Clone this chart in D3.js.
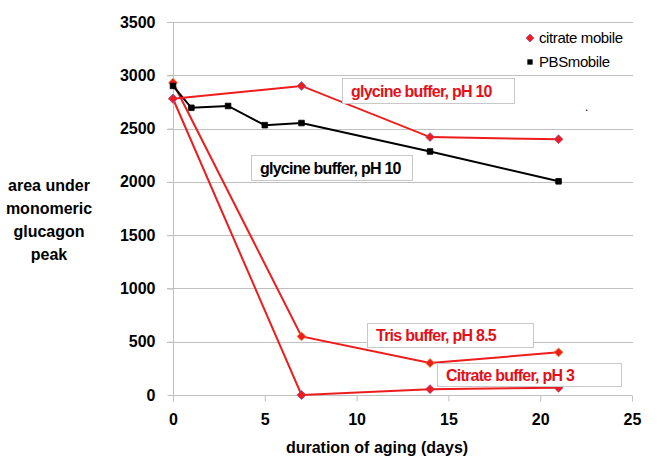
<!DOCTYPE html>
<html><head><meta charset="utf-8">
<script src="https://cdn.jsdelivr.net/npm/d3@7"></script>
<style>body{margin:0;background:#fff}svg{display:block}text{font-family:"Liberation Sans",Arial,sans-serif}</style>
</head><body><div id="chart"></div>
<script>
const xTicks = [0, 5, 10, 15, 20, 25];
const yTicks = [0, 500, 1000, 1500, 2000, 2500, 3000, 3500];

const glycineCitDays = [0, 7, 14, 21];
const glycineCitVals = [2780, 2900, 2420, 2400];
const trisCitDays = [0, 7, 14, 21];
const trisCitVals = [2930, 550, 300, 400];
const citrateCitDays = [0, 7, 14, 21];
const citrateCitVals = [2780, 0, 55, 68];
const glycinePbsDays = [0, 1, 3, 5, 7, 14, 21];
const glycinePbsVals = [2900, 2695, 2712, 2532, 2552, 2285, 2005];

const legendLabels = ["citrate mobile", "PBSmobile"];
const xTitle = "duration of aging (days)";
const yTitleLines = ["area under", "monomeric", "glucagon", "peak"];

const W = 659, H = 460;
const m = {l: 173, r: 27, t: 22, b: 65};
const svg = d3.select("#chart").append("svg").attr("width", W).attr("height", H);

const x = d3.scaleLinear().domain([0, 25]).range([m.l, W - m.r]);
const y = d3.scaleLinear().domain([0, 3500]).range([H - m.b, m.t]);

const gridC = "#c0c0c0";
// gridlines
svg.append("g").selectAll("line").data(yTicks.filter(d => d > 0)).join("line")
  .attr("x1", x(0) - 6).attr("x2", x(25) + 1)
  .attr("y1", d => Math.round(y(d)) + 0.5).attr("y2", d => Math.round(y(d)) + 0.5)
  .attr("stroke", gridC).attr("stroke-width", 1);

// y axis
const yAxis = svg.append("g").attr("transform", `translate(${Math.round(x(0)) + 0.5},0)`)
  .call(d3.axisLeft(y).tickValues(yTicks).tickSize(6).tickPadding(12).tickFormat(d3.format("d")));
yAxis.select(".domain").attr("stroke", gridC).attr("d", `M0,${y(3500)}V${y(0)}`);
yAxis.selectAll(".tick line").attr("stroke", gridC);
yAxis.selectAll(".tick text").attr("font-size", 16).attr("font-weight", "bold").attr("fill", "#000")
  .attr("font-family", "Liberation Sans, Arial, sans-serif");

// x axis
const xAxis = svg.append("g").attr("transform", `translate(0,${Math.round(y(0)) + 0.5})`)
  .call(d3.axisBottom(x).tickValues(xTicks).tickSize(6).tickPadding(12).tickFormat(d3.format("d")));
xAxis.select(".domain").attr("stroke", gridC).attr("d", `M${x(0)},0H${x(25)}`);
xAxis.selectAll(".tick line").attr("stroke", gridC);
xAxis.selectAll(".tick text").attr("font-size", 16).attr("font-weight", "bold").attr("fill", "#000")
  .attr("font-family", "Liberation Sans, Arial, sans-serif");

// titles
svg.append("text").attr("x", 377).attr("y", 453).attr("text-anchor", "middle")
  .attr("font-size", 16).attr("font-weight", "bold").text(xTitle);
svg.append("g").selectAll("text").data(yTitleLines).join("text")
  .attr("x", 49).attr("y", (d, i) => 191 + i * 23).attr("text-anchor", "middle")
  .attr("font-size", 16).attr("font-weight", "bold").text(d => d);

const red = "#ee1c1c";
const line = d3.line().x(d => x(d[0])).y(d => y(d[1]));
function series(days, vals, color, marker, stroke) {
  const pts = days.map((d, i) => [d, vals[i]]);
  svg.append("path").datum(pts).attr("d", line).attr("fill", "none")
    .attr("stroke", color).attr("stroke-width", 2);
  const sym = marker === "diamond" ? d3.symbolDiamond2 : d3.symbolSquare2;
  svg.append("g").selectAll("path").data(pts).join("path")
    .attr("transform", d => `translate(${x(d[0])},${y(d[1])})`)
    .attr("d", d3.symbol().type(sym).size(marker === "diamond" ? 50 : 40))
    .attr("fill", color).attr("stroke", stroke).attr("stroke-width", 0.8);
}
series(citrateCitDays, citrateCitVals, red, "diamond", "#9b3a8c");
series(trisCitDays, trisCitVals, red, "diamond", "#e8841e");
series(glycinePbsDays, glycinePbsVals, "#000", "square", "#000");
series(glycineCitDays, glycineCitVals, red, "diamond", "#8a5aa8");

// annotation boxes
const labels = [
  {t: "glycine buffer, pH 10", bx: 342, by: 78, bw: 172, bh: 25, c: "#e3101a"},
  {t: "glycine buffer, pH 10", bx: 251, by: 155, bw: 161, bh: 25, c: "#000"},
  {t: "Tris buffer, pH 8.5", bx: 367, by: 323, bw: 166, bh: 24, c: "#e3101a"},
  {t: "Citrate  buffer, pH 3", bx: 437, by: 363, bw: 184, bh: 23, c: "#e3101a"}
];
const lg = svg.append("g").selectAll("g").data(labels).join("g");
lg.append("rect").attr("x", d => d.bx + 0.5).attr("y", d => d.by + 0.5)
  .attr("width", d => d.bw).attr("height", d => d.bh)
  .attr("fill", "#fff").attr("stroke", "#c8c8c8");
lg.append("text").attr("x", d => d.bx + 9).attr("y", d => d.by + d.bh / 2 + 6)
  .attr("font-size", 16).attr("font-weight", "bold").attr("fill", d => d.c)
  .attr("letter-spacing", -0.75).text(d => d.t);

// stray dot
svg.append("text").attr("x", 585).attr("y", 111).attr("font-size", 12).attr("fill", "#000").text(".");

// legend
const leg = svg.append("g");
leg.append("path").attr("transform", "translate(530,38)")
  .attr("d", d3.symbol().type(d3.symbolDiamond2).size(40)).attr("fill", red).attr("stroke", "#9b3a8c").attr("stroke-width", 0.6);
leg.append("path").attr("transform", "translate(530,62)")
  .attr("d", d3.symbol().type(d3.symbolSquare2).size(36)).attr("fill", "#000");
leg.selectAll("text").data(legendLabels).join("text")
  .attr("x", 539).attr("y", (d, i) => 43 + i * 24)
  .attr("font-size", 15).attr("fill", "#000").attr("letter-spacing", -0.4).text(d => d);
</script></body></html>
